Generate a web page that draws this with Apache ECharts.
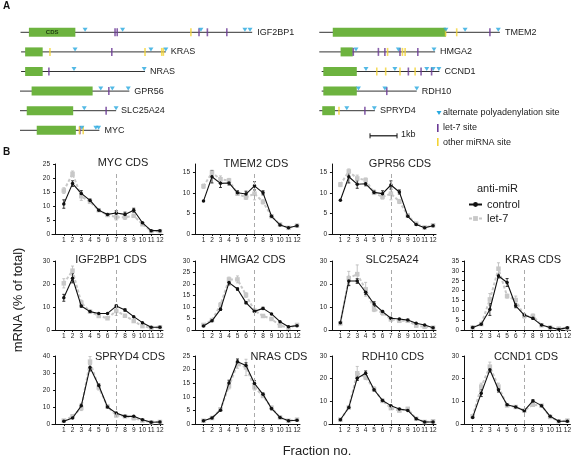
<!DOCTYPE html>
<html><head><meta charset="utf-8">
<script src="https://cdn.jsdelivr.net/npm/echarts@6/dist/echarts.min.js"></script>
<style>html,body{margin:0;padding:0;background:#fff}#c{width:574px;height:468px}</style>
</head><body><div id="c"></div>
<script>
// ---------- Panel A data (positions along transcript, kb) ----------
const leftGenes = ['IGF2BP1','KRAS','NRAS','GPR56','SLC25A24','MYC'];
const leftTranscripts = [[0.02,8.60],[0.04,5.40],[0.04,4.63],[0,4.05],[0,3.56],[0,2.94]];
const leftCds = [[0.33,2.05],[0.19,0.84],[0.19,0.84],[0.43,2.69],[0.25,1.97],[0.62,2.07]];
const leftPolyA = [[2.41,3.80,6.70,8.33,8.52],[2.04,4.85,5.40],[2.00,4.60],[2.99,3.42,4.01],[2.38,3.56],[2.29,2.81,2.91]];
const leftLet7 = [[3.52,3.60,6.63,6.94,7.66],[3.40],[1.07],[3.29],[3.19],[2.22]];
const leftOther = [[6.33],[1.11,4.63,5.25,5.31],[],[],[],[2.20,2.34]];
const rightGenes = ['TMEM2','HMGA2','CCND1','RDH10','SPRYD4'];
const rightTranscripts = [[0.01,6.70],[0.01,4.30],[0.10,4.46],[0.10,3.62],[0.01,2.07]];
const rightCds = [[0.51,4.70],[0.80,1.25],[0.16,1.40],[0.16,1.40],[0.12,0.59]];
const rightPolyA = [[4.70,5.41,6.64],[1.37,2.94,4.26],[1.74,2.81,3.99,4.23,4.44],[1.46,2.44,3.62],[1.03,2.05]];
const rightLet7 = [[6.33],[1.27,2.20,2.44,3.00,3.66],[3.31,3.78,4.17],[2.51],[1.70]];
const rightOther = [[4.69,5.10],[2.54,3.09,3.19],[2.14,2.47,3.00,3.56],[],[0.74]];
const scaleBar = [1.89, 2.89]; // 1 kb

// ---------- Panel B data ----------
const fractions = [1,2,3,4,5,6,7,8,9,10,11,12];
const chartTitles = ['MYC CDS','TMEM2 CDS','GPR56 CDS','IGF2BP1 CDS','HMGA2 CDS','SLC25A24','KRAS CDS','SPRYD4 CDS','NRAS CDS','RDH10 CDS','CCND1 CDS'];
const yMax  = [25,17,17,30,30,30,35,40,25,30,30];
const yStep = [5,5,5,10,5,10,5,10,5,10,10];

const mycControl = [10.7,18,14.5,12,8.5,7,7.5,7,8.5,4,1.2,1.2];
const mycLet7    = [15.5,21.5,13.5,11.5,8.5,6.8,6,6,6.5,3.5,1,1];
const tmem2Control = [8,13.9,12.3,12.4,10,9.7,11.7,10,4.3,2.2,1.5,2];
const tmem2Let7    = [11.6,14.9,13.3,13,9.8,8.9,9.8,7.8,4.3,2.3,1.5,2];
const gpr56Control = [8.2,13.9,12.1,12.2,10.1,9.8,11.9,10.2,4.3,2.3,1.5,2];
const gpr56Let7    = [12,15.2,13.5,13.1,10,9,9.8,7.9,4.5,2.5,1.6,2.1];
const igf2bp1Control = [14,22.5,10.4,8,7.2,7.2,10.4,8.7,5.8,3.2,1.2,1.2];
const igf2bp1Let7    = [20.3,25.8,11.9,8,6.1,5.1,8.3,6.2,3.9,1.7,0.9,1.2];
const hmga2Control = [1.7,4,9,20.6,17.8,11.9,8.1,9.4,7,3.6,1.4,1.9];
const hmga2Let7    = [2.2,4.3,10.9,22,22,15.2,8.4,6.1,4.8,1.9,1,2.2];
const slc25a24Control = [3.2,21.3,21.3,16.4,11.3,8,5.1,4.8,4.3,2.9,2.2,1];
const slc25a24Let7    = [2.9,22.5,24.3,17.7,9,7.5,4.6,4,4,1.9,1.4,1];
const krasControl = [1.3,2.9,10.4,27.4,24.1,12.3,7.6,5.9,2.5,1.3,0.3,1.2];
const krasLet7    = [1.3,3,15.5,31.1,17.2,15.2,7.1,7.1,2.4,1.2,0.7,0.8];
const spryd4Control = [1.6,3.5,10.7,33.2,22.6,10,6.4,4.5,4.5,2.5,1,1.2];
const spryd4Let7    = [2,4.5,9.4,36.7,21.5,10.3,5.1,4.5,3.5,2,1,1.2];
const nrasControl = [1.2,2.2,5.1,15.1,22.9,21.5,14.9,10.9,5.7,2.4,1.2,1.4];
const nrasLet7    = [1.2,2.2,5.4,13.9,22,20.8,13.5,10.3,6,2.4,1.2,1.6];
const rdh10Control = [1.9,7.3,20.2,22.4,15.1,10.4,8.1,6.6,6,2.3,0.9,0.9];
const rdh10Let7    = [1.9,7.3,22.4,20.6,15.4,10.2,7,5.9,6.7,2.3,0.9,1.2];
const ccnd1Control = [2.9,13.6,23.9,15.1,8.5,7.5,5.9,10.2,8.1,3.4,1.2,1.2];
const ccnd1Let7    = [3.4,16.5,25.3,16.5,8.2,7.5,5.9,8.5,8.1,3.1,1.2,1.5];

// error bars (half-height, estimated)
const mycControlErr = [1.5,1,1,0.5,0,0,0.8,0.8,0.7,0,0,0];
const mycLet7Err    = [1,1,1.5,0.5,0,0,1,0.8,0.5,0.3,0,0];
const tmem2ControlErr = [0,1.5,1,0.5,0.5,0.7,1,0.5,0,0,0,0];
const tmem2Let7Err    = [0.5,0.6,0.8,0.5,0.3,0.5,1.5,0.5,0,0,0,0.4];
const gpr56ControlErr = [0,1.5,1,0.5,0.5,0.7,1,0.5,0,0,0,0];
const gpr56Let7Err    = [0.5,0.6,0.8,0.5,0.3,0.5,1.5,0.5,0,0,0,0.4];
const igf2bp1ControlErr = [1.5,2,0.5,0,0,0,0.5,0.5,0,0,0,0];
const igf2bp1Let7Err    = [2,2,1,0,0,0,2,0,0,0,0,0];
const hmga2ControlErr = [0,0,0.5,1,0.5,0.5,0.5,0.5,0,0,0,0];
const hmga2Let7Err    = [0,0,1,1,1.5,1,0.5,0.5,0.5,0,0,0];
const slc25a24ControlErr = [0,2,1,1,1,0.5,0,0,0,0,0,0];
const slc25a24Let7Err    = [0,3,4,3,1,1,0,0,0,0,0,0];
const krasControlErr = [0,0,3,1,2,1,0,0.5,0,0,0,0];
const krasLet7Err    = [0,0,3,3,1,2,1,1,0,0,0,0];
const spryd4ControlErr = [0,0,1,2,1,0.5,0,0,0,0,0,0];
const spryd4Let7Err    = [0,1,1.5,3,1.5,0.5,1,0.5,1,0,0,0];
const nrasControlErr = [0,0,0,1,1,1,1,0.5,0.5,0,0,0];
const nrasLet7Err    = [0,0,0.5,1,1.5,3,1,0.5,0.5,0,0,0];
const rdh10ControlErr = [0,0,1,1,0.5,0.5,0,0,0,0,0,0];
const rdh10Let7Err    = [0,0,3,1,1,0.5,0,0,0.5,0,0,0];
const ccnd1ControlErr = [0,1.5,1,1,0,0,0,0.5,0,0,0,0];
const ccnd1Let7Err    = [0.5,1.5,2,1.5,0.5,0,0,0.5,0.5,0,0,0];

const controlSets = [mycControl,tmem2Control,gpr56Control,igf2bp1Control,hmga2Control,slc25a24Control,krasControl,spryd4Control,nrasControl,rdh10Control,ccnd1Control];
const let7Sets = [mycLet7,tmem2Let7,gpr56Let7,igf2bp1Let7,hmga2Let7,slc25a24Let7,krasLet7,spryd4Let7,nrasLet7,rdh10Let7,ccnd1Let7];
const controlErrSets = [mycControlErr,tmem2ControlErr,gpr56ControlErr,igf2bp1ControlErr,hmga2ControlErr,slc25a24ControlErr,krasControlErr,spryd4ControlErr,nrasControlErr,rdh10ControlErr,ccnd1ControlErr];
const let7ErrSets = [mycLet7Err,tmem2Let7Err,gpr56Let7Err,igf2bp1Let7Err,hmga2Let7Err,slc25a24Let7Err,krasLet7Err,spryd4Let7Err,nrasLet7Err,rdh10Let7Err,ccnd1Let7Err];

// ---------- layout / style ----------
const FONT = 'Liberation Sans, Arial, sans-serif';
const colLeft = [52,192,329,461];
const colWidth = [111,108,107,110];
const rowTop = [164,261,356];
const rowHeight = [70,69,68];
const chartCell = [[0,0],[0,1],[0,2],[1,0],[1,1],[1,2],[1,3],[2,0],[2,1],[2,2],[2,3]];
const titleX = [123,256,400,111,253,392,533,130,279,393,526];
const titleY = [164,165,165,261,261,261,261,358,358,358,358];
const C_GREEN = '#6db33f', C_BLUE = '#27a8df', C_PURPLE = '#6b3a96', C_YELLOW = '#f3d335';
const C_LET7 = '#c8c8c8';

const grids = [], xAxes = [], yAxes = [], series = [], titles = [];

// Panel A grids
grids.push({left:20, top:22.5, width:270, height:117.6});
grids.push({left:319, top:22.5, width:243, height:117.6});
xAxes.push({gridIndex:0, type:'value', min:0, max:10, show:false});
xAxes.push({gridIndex:1, type:'value', min:0, max:9, show:false});
yAxes.push({gridIndex:0, type:'category', data:[0,1,2,3,4,5], inverse:true, show:false});
yAxes.push({gridIndex:1, type:'category', data:[0,1,2,3,4,5], inverse:true, show:false});

function geneSeries(gi, names, tr, cds, polyA, let7, other){
  series.push({type:'custom', xAxisIndex:gi, yAxisIndex:gi, silent:true, z:1,
    encode:{x:[0,1], y:2},
    data: tr.map((t,i)=>[t[0],t[1],i]),
    renderItem:(p,api)=>{
      const a = api.coord([api.value(0), api.value(2)]);
      const b = api.coord([api.value(1), api.value(2)]);
      return {type:'line', shape:{x1:a[0],y1:a[1],x2:b[0],y2:b[1]}, style:{stroke:'#333', lineWidth:1}};
    }});
  series.push({type:'custom', xAxisIndex:gi, yAxisIndex:gi, silent:true, z:2,
    encode:{x:[0,1], y:2},
    data: cds.map((c,i)=>[c[0],c[1],i]),
    renderItem:(p,api)=>{
      const a = api.coord([api.value(0), api.value(2)]);
      const b = api.coord([api.value(1), api.value(2)]);
      const els = [{type:'rect', shape:{x:a[0], y:a[1]-4.5, width:b[0]-a[0], height:9}, style:{fill:C_GREEN}}];
      if (gi===0 && p.dataIndex===0) els.push({type:'text', x:(a[0]+b[0])/2, y:a[1],
        style:{text:'CDS', fill:'#1f3d10', font:'bold 6px '+FONT, align:'center', verticalAlign:'middle'}});
      return {type:'group', children:els};
    }});
  series.push({type:'custom', xAxisIndex:gi, yAxisIndex:gi, silent:true, z:5,
    encode:{x:0, y:1},
    data: tr.map((t,i)=>[t[1],i]),
    renderItem:(p,api)=>{
      const a = api.coord([api.value(0), api.value(1)]);
      return {type:'text', x:a[0]+5, y:a[1], style:{text:names[p.dataIndex], fill:'#222', font:'9px '+FONT, align:'left', verticalAlign:'middle'}};
    }});
  const pts = arr => arr.flatMap((l,i)=>l.map(v=>[v,i]));
  series.push({type:'scatter', xAxisIndex:gi, yAxisIndex:gi, silent:true, z:4, data:pts(let7),
    symbol:'rect', symbolSize:[1.6,8], itemStyle:{color:C_PURPLE}});
  series.push({type:'scatter', xAxisIndex:gi, yAxisIndex:gi, silent:true, z:4, data:pts(other),
    symbol:'rect', symbolSize:[1.6,8], itemStyle:{color:C_YELLOW}});
  series.push({type:'scatter', xAxisIndex:gi, yAxisIndex:gi, silent:true, z:4, data:pts(polyA),
    symbol:'triangle', symbolRotate:180, symbolSize:[5,4], symbolOffset:[0,-2.5], itemStyle:{color:C_BLUE}});
}
geneSeries(0, leftGenes, leftTranscripts, leftCds, leftPolyA, leftLet7, leftOther);
geneSeries(1, rightGenes, rightTranscripts, rightCds, rightPolyA, rightLet7, rightOther);
// scale bar
series.push({type:'custom', xAxisIndex:1, yAxisIndex:1, silent:true, encode:{x:[0,1], y:2},
  data:[[scaleBar[0], scaleBar[1], 5]],
  renderItem:(p,api)=>{
    const a = api.coord([api.value(0), api.value(2)]);
    const b = api.coord([api.value(1), api.value(2)]);
    const y = a[1]+5.5;
    return {type:'group', children:[
      {type:'line', shape:{x1:a[0],y1:y,x2:b[0],y2:y}, style:{stroke:'#111', lineWidth:1.2}},
      {type:'line', shape:{x1:a[0],y1:y-2.5,x2:a[0],y2:y+2.5}, style:{stroke:'#111', lineWidth:1}},
      {type:'line', shape:{x1:b[0],y1:y-2.5,x2:b[0],y2:y+2.5}, style:{stroke:'#111', lineWidth:1}},
      {type:'text', x:b[0]+4, y:y-1.5, style:{text:'1kb', fill:'#222', font:'9px '+FONT, align:'left', verticalAlign:'middle'}}
    ]};
  }});

// Panel B
function errSeries(gi, vals, errs, color){
  series.push({type:'custom', xAxisIndex:gi, yAxisIndex:gi, silent:true, z:3, encode:{x:0,y:1},
    data: fractions.map((f,k)=>[f, vals[k], errs[k]]),
    renderItem:(p,api)=>{
      const e = api.value(2);
      if (!e) return null;
      const a = api.coord([api.value(0), api.value(1)-e]);
      const b = api.coord([api.value(0), api.value(1)+e]);
      const st = {stroke:color, lineWidth:0.9};
      return {type:'group', children:[
        {type:'line', shape:{x1:a[0],y1:a[1],x2:b[0],y2:b[1]}, style:st},
        {type:'line', shape:{x1:a[0]-1.5,y1:a[1],x2:a[0]+1.5,y2:a[1]}, style:st},
        {type:'line', shape:{x1:b[0]-1.5,y1:b[1],x2:b[0]+1.5,y2:b[1]}, style:st}
      ]};
    }});
}

chartTitles.forEach((t,i)=>{
  const gi = i+2;
  const [r,c] = chartCell[i];
  grids.push({left:colLeft[c], top:rowTop[r], width:colWidth[c], height:rowHeight[r]});
  const yt = [];
  for (let v=0; v<=yMax[i]; v+=yStep[i]) yt.push(v);
  xAxes.push({gridIndex:gi, type:'value', min:-0.35, max:12.35,
    axisLine:{lineStyle:{color:'#111', width:1}},
    axisTick:{show:true, length:2, customValues:fractions, lineStyle:{color:'#111'}},
    axisLabel:{customValues:fractions, fontSize:6.5, color:'#222', margin:3, fontFamily:FONT},
    splitLine:{show:false}});
  yAxes.push({gridIndex:gi, type:'value', min:0, max:yMax[i],
    axisLine:{show:true, lineStyle:{color:'#111', width:1}},
    axisTick:{show:true, length:2, customValues:yt, lineStyle:{color:'#111'}},
    axisLabel:{customValues:yt, fontSize:6.5, color:'#222', margin:2, fontFamily:FONT},
    splitLine:{show:false}});
  titles.push({text:t, left:titleX[i], top:titleY[i]-7, textAlign:'center', padding:0,
    textStyle:{fontSize:11, fontWeight:'normal', color:'#222', fontFamily:FONT}});
  errSeries(gi, let7Sets[i], let7ErrSets[i], '#bdbdbd');
  series.push({name:'let-7', type:'line', xAxisIndex:gi, yAxisIndex:gi, z:3,
    data: fractions.map((f,k)=>[f, let7Sets[i][k]]),
    symbol:'rect', symbolSize:4.5, itemStyle:{color:C_LET7},
    lineStyle:{color:C_LET7, width:2, type:[3,2]}});
  errSeries(gi, controlSets[i], controlErrSets[i], '#222');
  series.push({name:'control', type:'line', xAxisIndex:gi, yAxisIndex:gi, z:4,
    data: fractions.map((f,k)=>[f, controlSets[i][k]]),
    symbol:'circle', symbolSize:3.5, itemStyle:{color:'#111'},
    lineStyle:{color:'#111', width:1.1},
    markLine:{silent:true, symbol:'none', label:{show:false},
      lineStyle:{color:'#aaa', type:[4,3], width:1},
      data:[[{coord:[7,0]},{coord:[7,yMax[i]*0.87]}]]}});
});

const chart = echarts.init(document.getElementById('c'), null, {renderer:'canvas'});
chart.setOption({
  animation:false,
  backgroundColor:'#fff',
  textStyle:{fontFamily:FONT},
  title:titles,
  grid:grids, xAxis:xAxes, yAxis:yAxes, series:series,
  legend:{data:['control','let-7'], orient:'vertical', left:463, top:194, itemWidth:13, itemHeight:6, itemGap:3,
    textStyle:{fontSize:11, color:'#222', fontFamily:FONT}, selectedMode:false},
  graphic:[
    {type:'text', left:3, top:1, style:{text:'A', font:'bold 10px '+FONT, fill:'#111'}},
    {type:'text', left:3, top:147, style:{text:'B', font:'bold 10px '+FONT, fill:'#111'}},
    {type:'text', x:477, y:189, style:{text:'anti-miR', font:'11px '+FONT, fill:'#222', verticalAlign:'middle'}},
    {type:'text', x:18, y:300, rotation:Math.PI/2, style:{text:'mRNA (% of total)', font:'13px '+FONT, fill:'#222', align:'center', verticalAlign:'middle'}},
    {type:'text', x:317, y:451, style:{text:'Fraction no.', font:'13px '+FONT, fill:'#222', align:'center', verticalAlign:'middle'}},
    {type:'polygon', shape:{points:[[436.5,111],[441.5,111],[439,115]]}, style:{fill:C_BLUE}},
    {type:'text', x:443, y:113, style:{text:'alternate polyadenylation site', font:'9px '+FONT, fill:'#222', verticalAlign:'middle'}},
    {type:'rect', shape:{x:437, y:124, width:1.6, height:8}, style:{fill:C_PURPLE}},
    {type:'text', x:443, y:128, style:{text:'let-7 site', font:'9px '+FONT, fill:'#222', verticalAlign:'middle'}},
    {type:'rect', shape:{x:437, y:138, width:1.6, height:8}, style:{fill:C_YELLOW}},
    {type:'text', x:443, y:142.5, style:{text:'other miRNA site', font:'9px '+FONT, fill:'#222', verticalAlign:'middle'}}
  ]
});
</script></body></html>
